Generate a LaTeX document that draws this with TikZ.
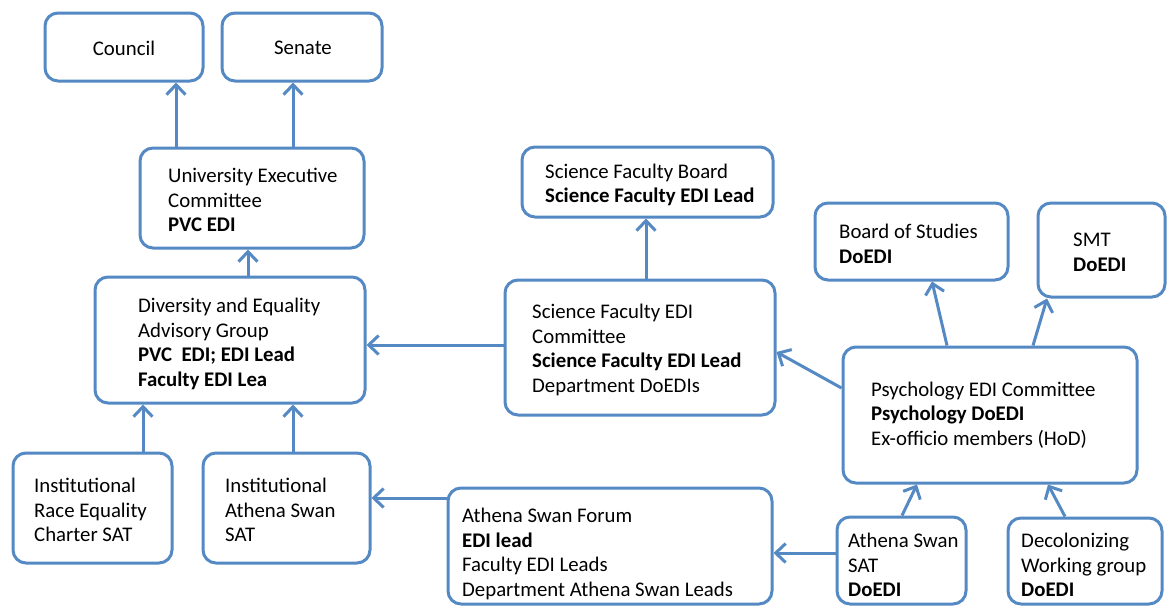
\documentclass[tikz,border=0pt]{standalone}
\usepackage{fontspec}
\setmainfont{Carlito}
\usetikzlibrary{arrows.meta}
\definecolor{edge}{RGB}{84,137,196}
\tikzset{
  box/.style={draw=edge, line width=3pt, rounded corners=13pt, rectangle, inner sep=0pt, fill=white},
  lbl/.style={anchor=west, align=left, inner sep=0pt, font=\fontsize{20.8}{24.7}\selectfont},
  clbl/.style={align=center, inner sep=0pt, font=\fontsize{20.8}{24.7}\selectfont},
  arr/.style={draw=edge, line width=3pt, -{Straight Barb[length=10pt,width=19pt]}},
}
\begin{document}
\begin{tikzpicture}[x=1pt,y=-1pt]
\useasboundingbox (0,0) rectangle (1167,608);
% boxes
\node[box, minimum width=158pt, minimum height=68pt] (council) at (124,47) {};
\node[box, minimum width=160pt, minimum height=68pt] (senate) at (302,47) {};
\node[box, minimum width=224pt, minimum height=100pt] (uec) at (252,198) {};
\node[box, minimum width=270pt, minimum height=126pt] (deag) at (230,340) {};
\node[box, minimum width=159pt, minimum height=110pt] (irec) at (92.5,508) {};
\node[box, minimum width=167pt, minimum height=110pt] (ias) at (286.5,508) {};
\node[box, minimum width=251pt, minimum height=70pt] (sfb) at (647.5,182) {};
\node[box, minimum width=270pt, minimum height=135pt] (sfc) at (640,347.5) {};
\node[box, minimum width=193pt, minimum height=77pt] (bos) at (911.5,241.5) {};
\node[box, minimum width=127pt, minimum height=94pt] (smt) at (1101.5,250) {};
\node[box, minimum width=294pt, minimum height=136pt] (pec) at (990,415) {};
\node[box, minimum width=324pt, minimum height=116pt] (asf) at (610,546) {};
\node[box, minimum width=129pt, minimum height=87pt] (asat) at (901.5,560.5) {};
\node[box, minimum width=154pt, minimum height=86pt] (dwg) at (1085,561) {};
% texts
\node[clbl] (councilt) at (124,48) {Council};
\node[clbl] (senatet) at (303,48) {Senate};
\node[lbl] (uect) at (168,200) {University Executive\\Committee\\\textbf{PVC EDI}};
\node[lbl] (deagt) at (138,344) {Diversity and Equality\\Advisory Group\\\textbf{PVC\ \ EDI; EDI Lead}\\\textbf{Faculty EDI Lea}};
\node[lbl] (irect) at (34,510) {Institutional\\Race Equality\\Charter SAT};
\node[lbl] (iast) at (225,510) {Institutional\\Athena Swan\\SAT};
\node[lbl] (sfbt) at (545,185) {Science Faculty Board\\\textbf{Science Faculty EDI Lead}};
\node[lbl] (sfct) at (532,350) {Science Faculty EDI\\Committee\\\textbf{Science Faculty EDI Lead}\\Department DoEDIs};
\node[lbl] (bost) at (839,244) {Board of Studies\\\textbf{DoEDI}};
\node[lbl] (smtt) at (1073,252) {SMT\\\textbf{DoEDI}};
\node[lbl] (pect) at (871,415) {Psychology EDI Committee\\\textbf{Psychology DoEDI}\\Ex-officio members (HoD)};
\node[lbl] (asft) at (462,554) {Athena Swan Forum\\\textbf{EDI lead}\\Faculty EDI Leads\\Department Athena Swan Leads};
\node[lbl] (asatt) at (848,565) {Athena Swan\\SAT\\\textbf{DoEDI}};
\node[lbl] (dwgt) at (1021,565) {Decolonizing\\Working group\\\textbf{DoEDI}};
% connectors
\draw[arr] ([xshift=37.5pt]uec.north west) -- ([xshift=37.5pt]uec.north west |- council.south);
\draw[arr] ([xshift=154.5pt]uec.north west) -- ([xshift=154.5pt]uec.north west |- senate.south);
\draw[arr] ([xshift=154.5pt]deag.north west) -- ([xshift=154.5pt]deag.north west |- uec.south);
\draw[arr] ([xshift=131.5pt]irec.north west) -- ([xshift=131.5pt]irec.north west |- deag.south);
\draw[arr] ([xshift=91.5pt]ias.north west) -- ([xshift=91.5pt]ias.north west |- deag.south);
\coordinate (sfcL) at ([yshift=2.5pt]sfc.west);
\draw[arr] (sfcL) -- (sfcL -| deag.east);
\draw[arr] ([xshift=6pt]sfc.north) -- ([xshift=6pt]sfc.north |- sfb.south);
\coordinate (asfL) at ([yshift=-11.5pt]asf.north west);
\draw[arr] (asfL) -- (asfL -| ias.east);
\coordinate (asatL) at ([yshift=7.5pt]asat.west);
\draw[arr] (asatL) -- (asatL -| asf.east);
\draw[arr] ([yshift=27pt]pec.west) -- ([yshift=-4.5pt]sfc.east);
\draw[arr] ([xshift=105.5pt]pec.north west) -- ([xshift=118.5pt]bos.south west);
\draw[arr] ([xshift=191.5pt]pec.north west) -- ([xshift=10.5pt]smt.south west);
\draw[arr] ([xshift=66.5pt]asat.north west) -- ([xshift=75.5pt]pec.south west);
\draw[arr] ([xshift=58.5pt]dwg.north west) -- ([xshift=206.5pt]pec.south west);
\end{tikzpicture}
\end{document}
